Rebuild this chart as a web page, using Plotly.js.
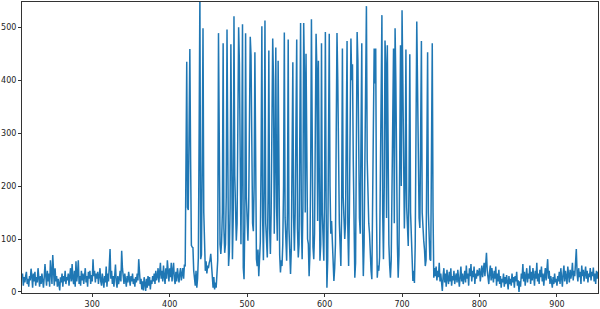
<!DOCTYPE html>
<html>
<head>
<meta charset="utf-8">
<script src="https://cdn.plot.ly/plotly-3.0.1.min.js"></script>
<style>html,body{margin:0;padding:0;background:#fff}#chart{width:600px;height:309px}</style>
</head>
<body>
<div id="chart"></div>
<script>
// x starts at 210, one value per unit step
var xStart = 210;

// baseline noise, x = 210..419
var noiseLeft = [
  35,12,28,18,30,38,15,25,10,30,
  22,44,30,8,35,20,38,12,28,18,
  45,25,10,30,15,35,22,8,28,53,
  30,12,40,20,35,10,60,25,15,70,
  35,12,45,20,30,10,25,15,3,28,
  18,35,10,30,20,40,15,28,22,35,
  12,30,45,20,53,25,15,40,10,58,
  20,35,60,15,30,12,40,22,35,15,
  28,45,18,30,10,38,25,40,15,32,
  20,62,30,40,18,35,25,38,15,30,
  45,20,12,35,25,8,30,18,48,10,
  35,20,50,81,25,40,15,30,10,35,
  52,20,8,30,15,25,40,20,78,45,
  25,15,35,20,10,30,18,38,25,12,
  30,20,35,15,25,10,28,18,35,22,
  62,30,15,25,5,20,3,28,10,2,
  25,8,30,12,28,5,22,15,30,20,
  35,15,40,22,30,45,18,35,55,25,
  40,20,50,30,15,45,25,60,35,20,
  45,28,55,20,40,55,25,15,38,20,
  45,30,18,35,45,22,30,45,25,52
];

// oscillating burst, x = 420..741
var burst = [
  48,420,435,160,155,300,459,250,88,85,
  84,40,30,12,40,8,25,65,300,565,
  62,70,250,498,150,55,40,58,35,50,
  45,55,60,72,40,30,8,28,5,18,
  8,40,60,489,130,90,72,95,150,470,
  120,74,90,180,496,110,49,75,160,468,
  100,62,140,521,220,120,97,130,480,500,
  432,160,90,250,506,46,24,130,489,180,
  120,97,160,300,482,447,170,130,115,200,
  453,150,62,49,80,30,55,95,250,502,
  140,60,200,513,130,85,65,180,456,120,
  72,150,300,479,403,110,250,462,160,97,
  437,130,70,37,60,49,90,200,490,140,
  80,59,150,477,120,60,34,80,200,434,
  140,78,150,300,477,120,65,90,250,508,
  130,62,160,508,409,150,450,140,100,91,
  30,70,220,515,130,85,62,110,300,488,
  422,134,437,130,59,90,470,150,80,59,
  200,491,160,8,60,250,488,200,110,134,
  97,60,21,45,90,300,489,400,159,131,
  90,49,150,460,180,120,100,130,250,474,
  120,49,150,300,479,400,430,250,90,27,
  55,250,491,437,200,140,110,250,470,120,
  30,90,250,491,540,250,160,130,110,60,
  40,24,150,350,460,394,460,150,27,50,
  40,65,200,420,523,150,62,200,475,430,
  140,466,150,90,50,27,60,180,350,460,
  130,498,396,180,90,27,70,250,466,200,
  532,400,153,120,200,458,160,100,87,200,
  449,150,102,60,21,40,17,90,300,511,
  390,200,140,121,250,474,150,110,97,80,
  49,60,200,453,150,80,62,59,250,470,
  150,27
];

// baseline noise, x = 742..954
var noiseRight = [
  45,30,48,22,40,28,55,20,
  35,15,2,30,45,18,35,10,42,25,
  15,38,20,45,12,30,22,40,15,28,
  35,18,42,25,10,30,48,20,35,15,
  28,40,18,50,25,35,12,45,30,53,
  20,40,28,48,15,35,25,42,30,38,
  45,20,35,50,28,40,55,30,45,74,
  40,25,15,38,50,22,45,30,18,40,
  25,48,12,35,20,42,15,30,8,25,
  18,35,10,28,15,32,20,5,30,15,
  25,12,35,18,28,8,30,20,38,12,
  22,0,20,10,35,25,53,20,38,12,
  30,45,18,35,25,50,15,38,22,45,
  30,12,40,25,55,20,35,15,42,28,
  48,20,35,12,30,45,22,38,62,25,
  40,15,30,20,8,28,15,35,18,25,
  12,30,20,38,15,45,25,10,35,50,
  20,40,28,15,48,30,18,42,25,35,
  55,22,40,30,50,81,35,20,45,28,
  38,15,50,30,42,20,35,48,25,40,
  18,35,28,45,22,38,30,46,20,35,
  15,40,25,38,30
];

var yVals = noiseLeft.concat(burst, noiseRight);
var xVals = yVals.map(function (v, i) { return xStart + i; });

var xTickVals = [300, 400, 500, 600, 700, 800, 900];
var yTickVals = [0, 100, 200, 300, 400, 500];

var trace = {
  x: xVals,
  y: yVals,
  type: 'scatter',
  mode: 'lines',
  line: { color: '#1f77b4', width: 1.5 },
  hoverinfo: 'skip'
};

var axisFont = { family: 'DejaVu Sans, sans-serif', size: 8, color: '#222' };

var layout = {
  width: 600,
  height: 309,
  margin: { l: 22, r: 2, t: 2, b: 16, pad: 0 },
  paper_bgcolor: '#fff',
  plot_bgcolor: '#fff',
  showlegend: false,
  xaxis: {
    range: [209.3, 953],
    tickmode: 'array',
    tickvals: xTickVals,
    ticks: 'outside',
    ticklen: 3,
    tickwidth: 1,
    tickcolor: '#333',
    showgrid: false,
    zeroline: false,
    showline: true,
    mirror: true,
    linecolor: '#333',
    linewidth: 1,
    tickfont: axisFont
  },
  yaxis: {
    range: [-1.9, 547.8],
    tickmode: 'array',
    tickvals: yTickVals,
    ticks: 'outside',
    ticklen: 3,
    tickwidth: 1,
    tickcolor: '#333',
    showgrid: false,
    zeroline: false,
    showline: true,
    mirror: true,
    linecolor: '#333',
    linewidth: 1,
    tickfont: axisFont
  }
};

Plotly.newPlot('chart', [trace], layout, { displayModeBar: false, staticPlot: true });
</script>
</body>
</html>
